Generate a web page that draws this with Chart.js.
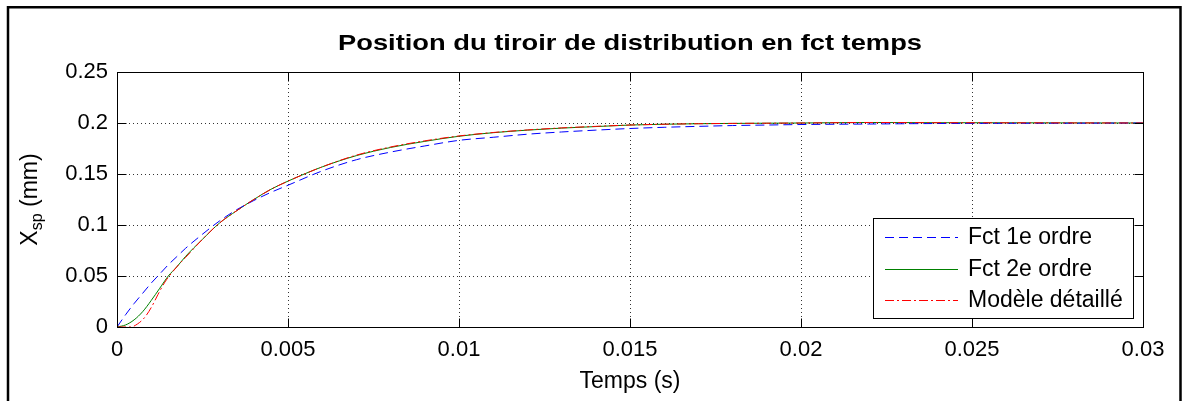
<!DOCTYPE html>
<html>
<head>
<meta charset="utf-8">
<script src="https://cdn.jsdelivr.net/npm/chart.js@4/dist/chart.umd.min.js"></script>
<style>
  html, body { margin: 0; padding: 0; background: #fff; }
  #c { display: block; }
</style>
</head>
<body>
<canvas id="c" width="1183" height="401"></canvas>
<script>
// ---- Data ----
const timeS = [0, 0.00025, 0.0005, 0.00075, 0.001, 0.00125, 0.0015, 0.00175, 0.002, 0.0025, 0.003, 0.0035, 0.004, 0.0045, 0.005, 0.006, 0.007, 0.008, 0.009, 0.01, 0.011, 0.012, 0.013, 0.014, 0.015, 0.016, 0.017, 0.018, 0.019, 0.02, 0.022, 0.024, 0.026, 0.028, 0.03];
const firstOrder = [0, 0.012, 0.023, 0.033, 0.043, 0.052, 0.061, 0.069, 0.077, 0.091, 0.104, 0.115, 0.124, 0.132, 0.139, 0.153, 0.164, 0.1715, 0.1775, 0.183, 0.186, 0.189, 0.1912, 0.193, 0.1946, 0.1958, 0.1967, 0.1975, 0.198, 0.1985, 0.199, 0.1995, 0.1997, 0.1998, 0.2];
const secondOrder = [0, 0.002, 0.007, 0.015, 0.026, 0.038, 0.050, 0.059, 0.069, 0.086, 0.102, 0.114, 0.125, 0.135, 0.143, 0.157, 0.168, 0.176, 0.182, 0.187, 0.1905, 0.193, 0.195, 0.1965, 0.198, 0.1988, 0.1993, 0.1996, 0.1998, 0.2, 0.2005, 0.2003, 0.2002, 0.2001, 0.2];
const timeDetailed = [0, 0.0004, 0.0006, 0.0008, 0.001, 0.0012, 0.0014, 0.0016, 0.0018, 0.002, 0.0025, 0.003, 0.0035, 0.004, 0.0045, 0.005, 0.006, 0.007, 0.008, 0.009, 0.01, 0.011, 0.012, 0.013, 0.014, 0.015, 0.016, 0.017, 0.018, 0.019, 0.02, 0.022, 0.024, 0.026, 0.028, 0.03];
const detailedModel = [0, 0, 0.003, 0.009, 0.019, 0.032, 0.044, 0.053, 0.061, 0.068, 0.086, 0.102, 0.114, 0.125, 0.135, 0.143, 0.157, 0.1685, 0.1765, 0.1825, 0.1873, 0.1907, 0.1932, 0.1952, 0.1967, 0.198, 0.1988, 0.1993, 0.1996, 0.1998, 0.2, 0.2005, 0.2003, 0.2002, 0.2001, 0.2];

const seriesLabels = ['Fct 1e ordre', 'Fct 2e ordre', 'Modèle détaillé'];
const xTickValues = [0, 0.005, 0.01, 0.015, 0.02, 0.025, 0.03];
const xTickLabels = ['0', '0.005', '0.01', '0.015', '0.02', '0.025', '0.03'];
const yTickValues = [0, 0.05, 0.1, 0.15, 0.2, 0.25];
const yTickLabels = ['0', '0.05', '0.1', '0.15', '0.2', '0.25'];
const chartTitle = 'Position du tiroir de distribution en fct temps';
const xAxisTitle = 'Temps (s)';
const yAxisMain = 'X', yAxisSub = 'sp', yAxisRest = ' (mm)';

const FONT = '"Liberation Sans", Arial, sans-serif';

function pairs(xs, ys) { return xs.map((x, i) => ({ x: x, y: ys[i] })); }

const decor = {
  id: 'decor',
  beforeDraw(chart) {
    const ctx = chart.ctx;
    ctx.save();
    ctx.fillStyle = '#fff';
    ctx.fillRect(0, 0, chart.width, chart.height);
    ctx.restore();
  },
  beforeDatasetsDraw(chart) {
    const ctx = chart.ctx, a = chart.chartArea;
    const xs = chart.scales.x, ys = chart.scales.y;
    ctx.save();
    ctx.strokeStyle = '#333';
    ctx.lineWidth = 1;
    ctx.setLineDash([1, 3]);
    xTickValues.forEach(v => {
      const px = Math.round(xs.getPixelForValue(v)) + 0.5;
      if (px <= a.left + 1 || px >= a.right - 1) return;
      ctx.beginPath(); ctx.moveTo(px, a.top); ctx.lineTo(px, a.bottom); ctx.stroke();
    });
    yTickValues.forEach(v => {
      const py = Math.round(ys.getPixelForValue(v)) + 0.5;
      if (py <= a.top + 1 || py >= a.bottom - 1) return;
      ctx.beginPath(); ctx.moveTo(a.left, py); ctx.lineTo(a.right, py); ctx.stroke();
    });
    ctx.restore();
  },
  afterDatasetsDraw(chart) {
    const ctx = chart.ctx, a = chart.chartArea;
    const xs = chart.scales.x, ys = chart.scales.y;
    const L = Math.round(a.left) + 0.5, R = Math.round(a.right) + 0.5;
    const T = Math.round(a.top) + 0.5, B = Math.round(a.bottom) + 0.5;
    ctx.save();
    ctx.setLineDash([]);
    ctx.strokeStyle = '#000';
    ctx.lineWidth = 1;
    // inward ticks
    const tl = 9;
    xTickValues.forEach(v => {
      const px = Math.round(xs.getPixelForValue(v)) + 0.5;
      ctx.beginPath();
      ctx.moveTo(px, B); ctx.lineTo(px, B - tl);
      ctx.moveTo(px, T); ctx.lineTo(px, T + tl);
      ctx.stroke();
    });
    yTickValues.forEach(v => {
      const py = Math.round(ys.getPixelForValue(v)) + 0.5;
      ctx.beginPath();
      ctx.moveTo(L, py); ctx.lineTo(L + tl, py);
      ctx.moveTo(R, py); ctx.lineTo(R - tl, py);
      ctx.stroke();
    });
    // plot box
    ctx.strokeRect(L, T, R - L, B - T);

    // legend
    const lx = 873.5, ly = 218.5, lw = 260, lh = 100;
    ctx.fillStyle = '#fff';
    ctx.fillRect(lx, ly, lw, lh);
    ctx.strokeStyle = '#000';
    ctx.strokeRect(lx, ly, lw, lh);
    const rowY = [237, 269, 300];
    ctx.font = '23px ' + FONT;
    ctx.textBaseline = 'middle';
    ctx.textAlign = 'left';
    chart.data.datasets.forEach((ds, i) => {
      const y = rowY[i] + 0.5;
      ctx.strokeStyle = ds.borderColor;
      ctx.lineWidth = 1;
      ctx.setLineDash(ds.borderDash || []);
      ctx.beginPath(); ctx.moveTo(885, y); ctx.lineTo(958, y); ctx.stroke();
      ctx.setLineDash([]);
      ctx.fillStyle = '#000';
      ctx.fillText(ds.label, 968, rowY[i] + 1);
    });

    // title (bold, wide)
    ctx.fillStyle = '#000';
    ctx.font = 'bold 22px ' + FONT;
    ctx.textBaseline = 'alphabetic';
    ctx.textAlign = 'left';
    const tw = ctx.measureText(chartTitle).width;
    const target = 584;
    ctx.save();
    ctx.translate(630 - target / 2, 50);
    ctx.scale(target / tw, 1);
    ctx.fillText(chartTitle, 0, 0);
    ctx.restore();

    // x axis title
    ctx.font = '23px ' + FONT;
    ctx.textAlign = 'center';
    ctx.fillText(xAxisTitle, 630, 388);

    // y axis title with subscript
    ctx.save();
    ctx.translate(37, 199.5);
    ctx.rotate(-Math.PI / 2);
    ctx.textAlign = 'left';
    ctx.font = '23px ' + FONT;
    const w1 = ctx.measureText(yAxisMain).width;
    const w3 = ctx.measureText(yAxisRest).width;
    ctx.font = '16px ' + FONT;
    const w2 = ctx.measureText(yAxisSub).width;
    let sx = -(w1 + w2 + w3) / 2;
    ctx.font = '23px ' + FONT;
    ctx.fillText(yAxisMain, sx, 0);
    sx += w1;
    ctx.font = '16px ' + FONT;
    ctx.fillText(yAxisSub, sx, 5);
    sx += w2;
    ctx.font = '23px ' + FONT;
    ctx.fillText(yAxisRest, sx, 0);
    ctx.restore();

    // outer frame
    ctx.lineWidth = 2.5;
    ctx.strokeStyle = '#000';
    ctx.strokeRect(8, 7.25, 1172.5, 400);
    ctx.restore();
  }
};

new Chart(document.getElementById('c'), {
  type: 'line',
  data: {
    datasets: [
      { label: seriesLabels[0], data: pairs(timeS, firstOrder), borderColor: '#0000ff', borderWidth: 1, borderDash: [9, 5], pointRadius: 0, fill: false, cubicInterpolationMode: 'monotone', order: 1 },
      { label: seriesLabels[1], data: pairs(timeS, secondOrder), borderColor: '#008000', borderWidth: 1, pointRadius: 0, fill: false, cubicInterpolationMode: 'monotone', order: 2 },
      { label: seriesLabels[2], data: pairs(timeDetailed, detailedModel), borderColor: '#ff0000', borderWidth: 1, borderDash: [9, 3, 2, 3], pointRadius: 0, fill: false, cubicInterpolationMode: 'monotone', order: 0 }
    ]
  },
  options: {
    responsive: false,
    animation: false,
    events: [],
    layout: { padding: { left: 0, top: 72, right: 40, bottom: 0 } },
    plugins: { legend: { display: false }, title: { display: false }, tooltip: { enabled: false } },
    scales: {
      x: {
        type: 'linear', min: 0, max: 0.03,
        afterBuildTicks: s => { s.ticks = xTickValues.map(v => ({ value: v })); },
        afterFit: s => { s.height = 74; },
        grid: { display: false, drawTicks: false },
        border: { display: false },
        ticks: { autoSkip: false, maxRotation: 0, padding: 10, color: '#000', font: { family: FONT, size: 22 },
                 callback: (v, i) => xTickLabels[i] }
      },
      y: {
        type: 'linear', min: 0, max: 0.25,
        afterBuildTicks: s => { s.ticks = yTickValues.map(v => ({ value: v })); },
        afterFit: s => { s.width = 117; },
        grid: { display: false, drawTicks: false },
        border: { display: false },
        ticks: { autoSkip: false, padding: 9, color: '#000', font: { family: FONT, size: 22 },
                 callback: (v, i) => yTickLabels[i] }
      }
    }
  },
  plugins: [decor]
});
</script>
</body>
</html>
